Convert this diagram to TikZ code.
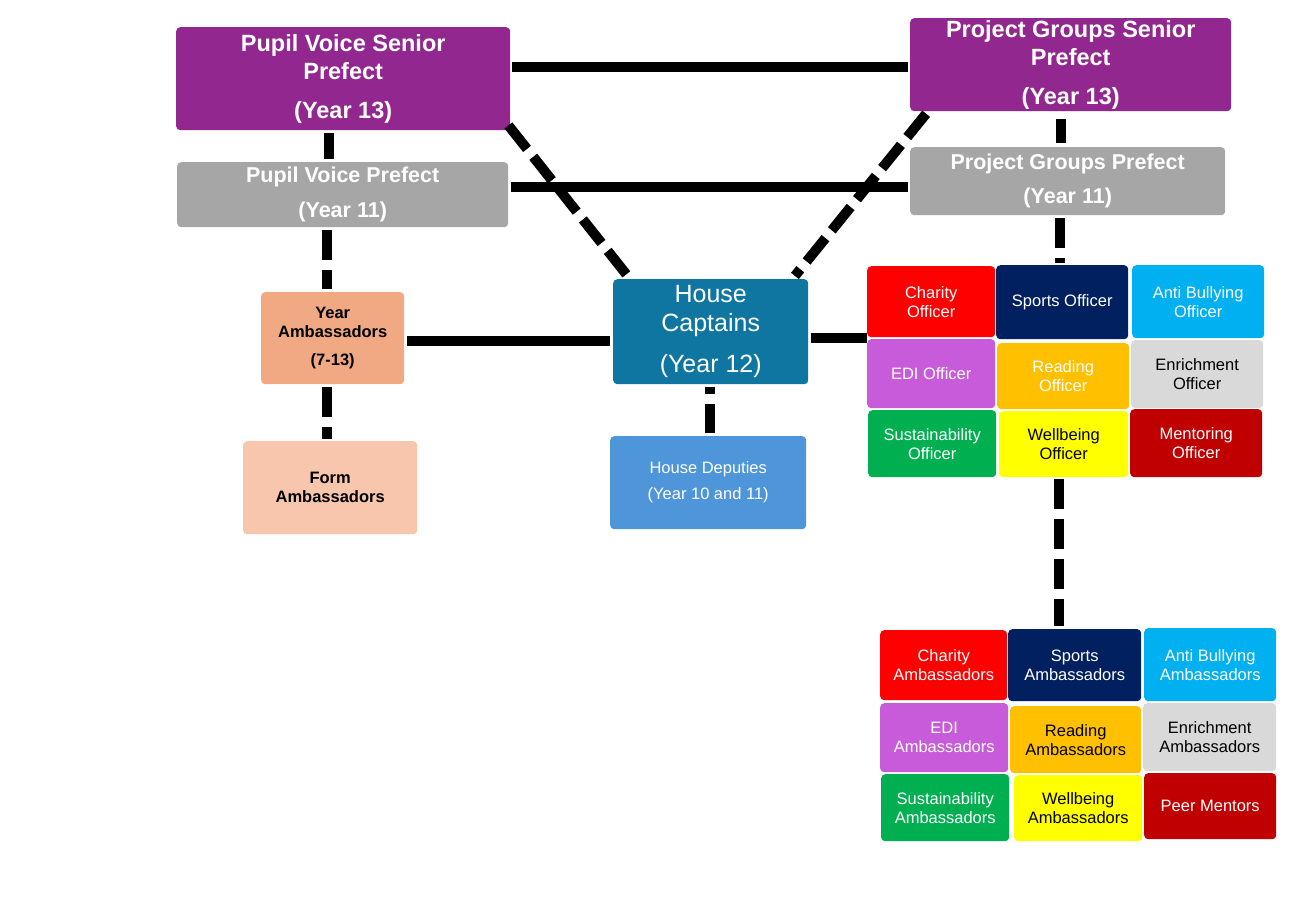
\documentclass[tikz,border=0pt]{standalone}
\usepackage{fontspec}
\setmainfont{Liberation Sans}
\definecolor{cpurple}{HTML}{92278F}
\definecolor{cgray}{HTML}{A6A6A6}
\definecolor{cyamb}{HTML}{F1A983}
\definecolor{cform}{HTML}{F7C6AC}
\definecolor{chc}{HTML}{0E76A0}
\definecolor{chd}{HTML}{4E95D9}
\definecolor{cred}{HTML}{FF0000}
\definecolor{cnavy}{HTML}{002060}
\definecolor{csky}{HTML}{00B0F0}
\definecolor{cedi}{HTML}{C85BD9}
\definecolor{corange}{HTML}{FFC000}
\definecolor{clgray}{HTML}{D9D9D9}
\definecolor{cgreen}{HTML}{00B050}
\definecolor{cyellow}{HTML}{FFFF00}
\definecolor{cdred}{HTML}{C00000}
\tikzset{
  box/.style 2 args={rectangle, rounded corners=4pt, minimum width=#1pt, minimum height=#2pt,
    inner sep=0pt, anchor=north west, align=center, text=white},
  fbig/.style={font=\bfseries\fontsize{23.5}{28}\selectfont},
  fmid/.style={font=\bfseries\fontsize{21.5}{24}\selectfont},
  fhc/.style={font=\fontsize{25}{29}\selectfont},
  fsmb/.style={font=\bfseries\fontsize{16.5}{19}\selectfont},
  fsm/.style={font=\fontsize{16.5}{19}\selectfont},
  conn/.style={line width=10pt, draw=black},
  dconn/.style={line width=10pt, draw=black, dash pattern=on 30pt off 10pt},
}
\begin{document}
\begin{tikzpicture}[x=1pt, y=-1pt]
\fill[white] (0,0) rectangle (1300,900);
\useasboundingbox (0,0) rectangle (1300,900);

% top boxes
\node[box={334}{103}, fill=cpurple, fbig] (pvsp) at (176,27) {Pupil Voice Senior\\Prefect\\[11pt](Year 13)};
\node[box={331}{65}, fill=cgray, fmid] (pvp) at (177,162) {Pupil Voice Prefect\\[11pt](Year 11)};
\node[box={321}{93}, fill=cpurple, fbig] (pgsp) at (910,18) {Project Groups Senior\\Prefect\\[11pt](Year 13)};
\node[box={315}{68}, fill=cgray, fmid] (pgp) at (910,147) {Project Groups Prefect\\[10pt](Year 11)};

% middle
\node[box={143}{92}, fill=cyamb, fsmb, text=black] (yamb) at (261,292) {Year\\Ambassadors\\[9pt](7-13)};
\node[box={174}{93}, fill=cform, fsmb, text=black] (famb) at (243,441) {Form\\Ambassadors};
\node[box={195}{105}, fill=chc, fhc] (hc) at (613,279) {House\\Captains\\[12pt](Year 12)};
\node[box={196}{93}, fill=chd, fsm] (hd) at (610,436) {House Deputies\\[7pt](Year 10 and 11)};

% officers grid
\node[box={128}{71}, fill=cred, fsm] (charo) at (867,266) {Charity\\Officer};
\node[box={132}{74}, fill=cnavy, fsm] (sporto) at (996,265) {Sports Officer};
\node[box={132}{73}, fill=csky, fsm] (antio) at (1132,265) {Anti Bullying\\Officer};
\node[box={128}{69}, fill=cedi, fsm] (edio) at (867,339) {EDI Officer};
\node[box={132}{66}, fill=corange, fsm] (reado) at (997,343) {Reading\\Officer};
\node[box={132}{68}, fill=clgray, fsm, text=black] (enro) at (1131,340) {Enrichment\\Officer};
\node[box={128}{67}, fill=cgreen, fsm] (susto) at (868,410) {Sustainability\\Officer};
\node[box={129}{66}, fill=cyellow, fsm, text=black] (wello) at (999,411) {Wellbeing\\Officer};
\node[box={132}{68}, fill=cdred, fsm] (mento) at (1130,409) {Mentoring\\Officer};

% ambassadors grid
\node[box={127}{70}, fill=cred, fsm] (chara) at (880,630) {Charity\\Ambassadors};
\node[box={133}{72}, fill=cnavy, fsm] (sporta) at (1008,629) {Sports\\Ambassadors};
\node[box={132}{73}, fill=csky, fsm] (antia) at (1144,628) {Anti Bullying\\Ambassadors};
\node[box={128}{69}, fill=cedi, fsm] (edia) at (880,703) {EDI\\Ambassadors};
\node[box={131}{67}, fill=corange, fsm, text=black] (reada) at (1010,706) {Reading\\Ambassadors};
\node[box={133}{68}, fill=clgray, fsm, text=black] (enra) at (1143,703) {Enrichment\\Ambassadors};
\node[box={128}{67}, fill=cgreen, fsm] (susta) at (881,774) {Sustainability\\Ambassadors};
\node[box={128}{66}, fill=cyellow, fsm, text=black] (wella) at (1014,775) {Wellbeing\\Ambassadors};
\node[box={132}{66}, fill=cdred, fsm] (peera) at (1144,773) {Peer Mentors};

% connectors
\coordinate (c1) at ([yshift=11.5pt]pvsp.east);
\draw[conn, shorten <=2pt, shorten >=2pt] (c1) -- (c1 -| pgsp.west);
\coordinate (c2) at ([yshift=7.5pt]pvp.east);
\draw[conn, shorten <=3pt, shorten >=2pt] (c2) -- (c2 -| pgp.west);
\coordinate (c3) at ([xshift=-14pt]pvsp.south);
\draw[conn, shorten <=3pt, shorten >=3pt] (c3) -- (c3 |- pvp.north);
\coordinate (c4) at ([xshift=-9.5pt]pgsp.south);
\draw[conn, shorten <=8pt, shorten >=4pt] (c4) -- (c4 |- pgp.north);
\coordinate (c5) at ([xshift=-5.5pt]yamb.north);
\draw[dconn, shorten <=3pt, shorten >=3pt] (c5 |- pvp.south) -- (c5);
\coordinate (c6) at ([xshift=-5.5pt]yamb.south);
\draw[dconn, shorten <=3pt, shorten >=2pt] (c6) -- (c6 |- famb.north);
\coordinate (c7) at ([yshift=-3pt]yamb.east);
\draw[conn, shorten <=3pt, shorten >=3pt] (c7) -- (c7 -| hc.west);
\draw[dconn, shorten >=3pt] ([xshift=-2pt,yshift=5pt]pvsp.south east) -- ([xshift=17pt]hc.north west);
\draw[dconn, shorten <=3pt, shorten >=4pt] ([xshift=18pt]pgsp.south west) -- ([xshift=-16pt]hc.north east);
\coordinate (c8) at ([yshift=-6.5pt]hc.east);
\draw[conn, shorten <=3pt] (c8) -- (c8 -| charo.west);
\coordinate (c9) at ([xshift=-0.5pt]hc.south);
\draw[dconn, dash phase=23pt, shorten <=3pt, shorten >=3pt] (c9) -- (c9 |- hd.north);
\coordinate (c10) at ([xshift=-7.5pt]pgp.south);
\draw[dconn, shorten <=3pt, shorten >=2pt] (c10) -- (c10 |- sporto.north);
\coordinate (c11) at ([xshift=-4.5pt]wello.south);
\draw[dconn, shorten <=2pt, shorten >=3pt] (c11) -- (c11 |- sporta.north);
\end{tikzpicture}
\end{document}
